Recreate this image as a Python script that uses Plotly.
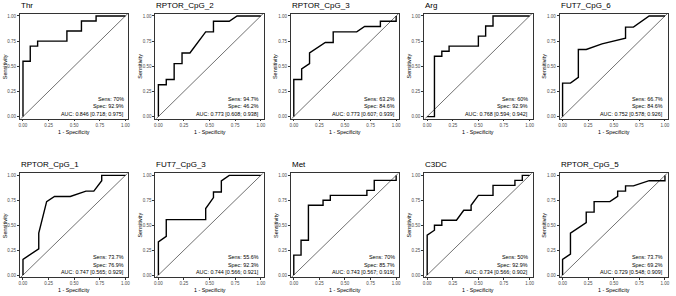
import plotly.graph_objects as go

# ---------------- data ----------------
names = ["Thr", "RPTOR_CpG_2", "RPTOR_CpG_3", "Arg", "FUT7_CpG_6",
         "RPTOR_CpG_1", "FUT7_CpG_3", "Met", "C3DC", "RPTOR_CpG_5"]

sens_txt = ["70%", "94.7%", "63.2%", "60%", "66.7%", "73.7%", "55.6%", "70%", "50%", "73.7%"]
spec_txt = ["92.9%", "46.2%", "84.6%", "92.9%", "84.6%", "76.9%", "92.3%", "85.7%", "92.9%", "69.2%"]
auc_txt = ["0.846 [0.718; 0.975]", "0.773 [0.608; 0.938]", "0.773 [0.607; 0.939]",
           "0.768 [0.594; 0.942]", "0.752 [0.578; 0.926]", "0.747 [0.565; 0.929]",
           "0.744 [0.566; 0.921]", "0.743 [0.567; 0.919]", "0.734 [0.566; 0.902]",
           "0.729 [0.548; 0.909]"]

# 1 - specificity (x) and sensitivity (y) along each ROC curve
fpr_thr = [0, 0, 0.071, 0.071, 0.143, 0.143, 0.429, 0.429, 0.571, 0.571, 0.714, 0.714, 1]
tpr_thr = [0, 0.55, 0.55, 0.70, 0.70, 0.75, 0.75, 0.85, 0.85, 0.95, 0.95, 1, 1]

fpr_r2 = [0, 0, 0.077, 0.077, 0.154, 0.154, 0.231, 0.231, 0.308, 0.462, 0.538, 0.538, 0.692, 0.769, 1]
tpr_r2 = [0, 0.316, 0.316, 0.368, 0.368, 0.526, 0.526, 0.632, 0.632, 0.842, 0.842, 0.947, 0.947, 1, 1]

fpr_r3 = [0, 0, 0.077, 0.077, 0.154, 0.154, 0.308, 0.385, 0.385, 0.615, 0.692, 0.846, 0.846, 1, 1]
tpr_r3 = [0, 0.368, 0.368, 0.474, 0.526, 0.632, 0.737, 0.737, 0.842, 0.842, 0.895, 0.895, 0.947, 0.947, 1]

fpr_arg = [0, 0.071, 0.071, 0.143, 0.143, 0.214, 0.214, 0.5, 0.5, 0.571, 0.571, 0.643, 0.643, 1]
tpr_arg = [0, 0, 0.60, 0.60, 0.65, 0.65, 0.70, 0.70, 0.80, 0.80, 0.90, 0.90, 1, 1]

fpr_f6 = [0, 0, 0.077, 0.154, 0.154, 0.231, 0.385, 0.615, 0.615, 0.692, 0.846, 1]
tpr_f6 = [0, 0.333, 0.333, 0.389, 0.667, 0.667, 0.722, 0.778, 0.889, 0.889, 1, 1]

fpr_r1 = [0, 0, 0.154, 0.154, 0.231, 0.308, 0.462, 0.615, 0.692, 0.769, 0.769, 1]
tpr_r1 = [0, 0.158, 0.263, 0.421, 0.737, 0.789, 0.789, 0.842, 0.842, 0.947, 1, 1]

fpr_f3 = [0, 0, 0.077, 0.077, 0.462, 0.462, 0.538, 0.538, 0.615, 0.615, 0.692, 1]
tpr_f3 = [0, 0.333, 0.389, 0.556, 0.556, 0.667, 0.778, 0.833, 0.833, 0.944, 1, 1]

fpr_met = [0, 0, 0.071, 0.071, 0.143, 0.143, 0.286, 0.286, 0.357, 0.357, 0.714, 0.714, 0.786, 0.786, 1, 1]
tpr_met = [0, 0.20, 0.20, 0.35, 0.35, 0.70, 0.70, 0.75, 0.75, 0.80, 0.80, 0.85, 0.85, 0.95, 0.95, 1]

fpr_c3 = [0, 0, 0.071, 0.071, 0.143, 0.143, 0.286, 0.357, 0.429, 0.429, 0.5, 0.643, 0.643, 0.857, 0.857, 0.929, 0.929, 1]
tpr_c3 = [0, 0.40, 0.45, 0.50, 0.50, 0.55, 0.55, 0.65, 0.65, 0.70, 0.80, 0.80, 0.90, 0.90, 0.95, 0.95, 1, 1]

fpr_r5 = [0, 0, 0.077, 0.077, 0.231, 0.231, 0.308, 0.308, 0.462, 0.538, 0.538, 0.615, 0.615, 0.692, 0.846, 1, 1]
tpr_r5 = [0, 0.158, 0.211, 0.421, 0.526, 0.632, 0.632, 0.737, 0.737, 0.789, 0.842, 0.842, 0.895, 0.895, 0.947, 0.947, 1]

fprs = [fpr_thr, fpr_r2, fpr_r3, fpr_arg, fpr_f6, fpr_r1, fpr_f3, fpr_met, fpr_c3, fpr_r5]
tprs = [tpr_thr, tpr_r2, tpr_r3, tpr_arg, tpr_f6, tpr_r1, tpr_f3, tpr_met, tpr_c3, tpr_r5]

chance = [-0.1, 1.1]
tick_vals = [0, 0.25, 0.5, 0.75, 1]
tick_text = ["0.00", "0.25", "0.50", "0.75", "1.00"]

# ---------------- layout ----------------
W, H = 676, 296
col_left = [19, 155, 291, 425, 561]
pw = 109
rows = [(14, 119), (174, 278)]  # top, bottom in px

FONT = "Liberation Sans, Arial, sans-serif"
fig = go.Figure()
layout = dict(width=W, height=H, margin=dict(l=0, r=0, t=0, b=0),
              paper_bgcolor="white", plot_bgcolor="white", showlegend=False,
              font=dict(family=FONT))
annotations = []

for i in range(10):
    r, c = divmod(i, 5)
    top, bot = rows[r]
    xl = col_left[c]
    n = i + 1
    xa = "xaxis" if n == 1 else f"xaxis{n}"
    ya = "yaxis" if n == 1 else f"yaxis{n}"
    xr = "x" if n == 1 else f"x{n}"
    yr = "y" if n == 1 else f"y{n}"
    common = dict(showgrid=False, zeroline=False, showline=True, mirror=True,
                  linecolor="#333333", linewidth=0.8, ticks="outside", ticklen=2,
                  tickwidth=0.6, tickcolor="#333333", tickvals=tick_vals, ticktext=tick_text,
                  tickfont=dict(size=4.5, color="#4d4d4d", family=FONT), fixedrange=True)
    layout[xa] = dict(domain=[xl / W, (xl + pw) / W], range=[-0.03, 1.03],
                      anchor=yr, **common)
    layout[ya] = dict(domain=[1 - bot / H, 1 - top / H], range=[-0.02, 1.02],
                      anchor=xr, **common)

    fig.add_trace(go.Scatter(x=chance, y=chance, mode="lines", xaxis=xr, yaxis=yr,
                             line=dict(color="#333333", width=0.7), hoverinfo="skip"))
    fig.add_trace(go.Scatter(x=fprs[i], y=tprs[i], mode="lines", xaxis=xr, yaxis=yr,
                             line=dict(color="black", width=1.4)))

    # panel title
    annotations.append(dict(text=names[i], xref="paper", yref="paper",
                            x=(xl - 1) / W, y=1 - (top - 8.5) / H, xanchor="left", yanchor="middle",
                            showarrow=False, font=dict(size=8, color="black", family=FONT)))
    # axis titles
    annotations.append(dict(text="1 - Specificity", xref="paper", yref="paper",
                            x=(xl + pw / 2) / W, y=1 - (bot + 13) / H, xanchor="center",
                            yanchor="middle", showarrow=False,
                            font=dict(size=5.3, color="black", family=FONT)))
    annotations.append(dict(text="Sensitivity", xref="paper", yref="paper",
                            x=(xl - 15) / W, y=1 - (top + bot) / 2 / H, xanchor="center",
                            yanchor="middle", textangle=-90, showarrow=False,
                            font=dict(size=5.5, color="black", family=FONT)))
    # stats
    ph = bot - top
    for k, (txt, off) in enumerate([(f"Sens: {sens_txt[i]}", 20),
                                    (f"Spec: {spec_txt[i]}", 12.5),
                                    (f"AUC: {auc_txt[i]}", 5)]):
        annotations.append(dict(text=txt, xref=f"{xr} domain", yref=f"{yr} domain",
                                x=0.975, y=off / ph, xanchor="right", yanchor="middle",
                                showarrow=False,
                                font=dict(size=5.4, color="black", family=FONT)))

layout["annotations"] = annotations
fig.update_layout(**layout)
fig.write_html("out.html", config={"displayModeBar": False},
               post_script="document.body.style.margin='0px';document.body.style.overflow='hidden';")
